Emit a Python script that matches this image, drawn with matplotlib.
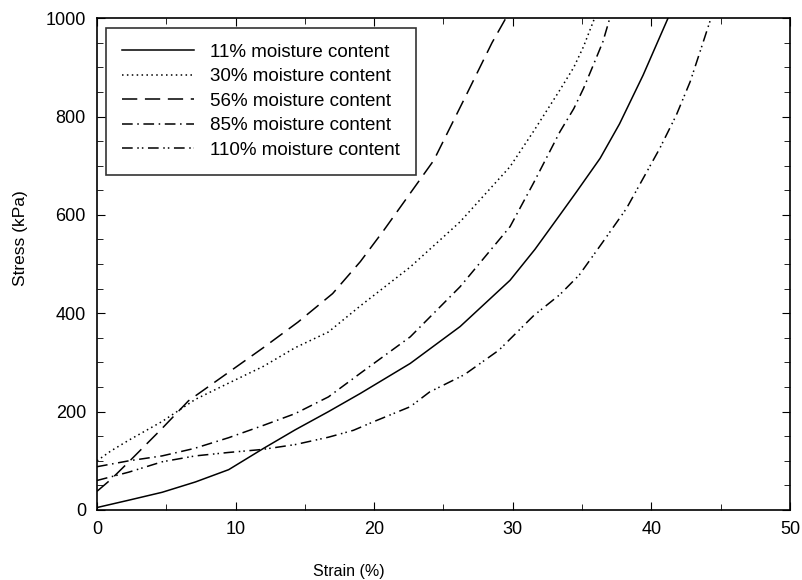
import matplotlib.pyplot as plt

plt.rcParams['font.family'] = ['Liberation Sans', 'DejaVu Sans']

# 11% moisture content
strain_11 = [0, 2.3, 4.7, 7.1, 9.5, 12, 14.3, 16.7, 19, 22.6, 26.2, 29.8, 31.6, 33.4, 34.6, 36.3, 37.7, 39.4, 41.2]
stress_11 = [5, 20, 36, 57, 82, 125, 163, 200, 237, 298, 373, 467, 530, 600, 647, 715, 785, 884, 1000]

# 30% moisture content
strain_30 = [0, 1, 2.3, 4.7, 7.1, 9.5, 12, 14.3, 16.7, 19, 22.6, 26.2, 29.8, 31.5, 33.4, 34.4, 35.1, 35.9]
stress_30 = [100, 120, 142, 180, 225, 258, 292, 330, 362, 415, 494, 586, 698, 770, 854, 900, 942, 1000]

# 56% moisture content
strain_56 = [0, 1, 2.3, 4.7, 6.6, 9.5, 12, 14.5, 17, 19, 20.7, 22.6, 24.3, 26.7, 28.5, 29.5]
stress_56 = [38, 62, 98, 166, 222, 280, 330, 382, 440, 505, 569, 644, 711, 847, 950, 1000]

# 85% moisture content
strain_85 = [0, 2.3, 4.7, 7, 9.5, 12, 14.3, 16.7, 19, 22.6, 26.2, 29.8, 31.5, 33.4, 34.4, 35.1, 35.8, 36.5, 37.0]
stress_85 = [88, 100, 110, 125, 147, 172, 196, 230, 278, 352, 454, 576, 665, 769, 816, 857, 904, 952, 1000]

# 110% moisture content
strain_110 = [0, 2.3, 4.7, 7.1, 9.5, 11.9, 14.3, 16.7, 18.5, 20, 22.6, 24, 26.5, 29, 31.5, 33.4, 34.8, 36.5,
              38.2, 39.4, 40.6, 41.8, 42.8, 43.5, 44.3]
stress_110 = [60, 77, 98, 110, 117, 123, 133, 148, 162, 180, 210, 240, 275, 325, 395, 438, 478, 545,
              613, 674, 735, 803, 871, 931, 1000]

fig = plt.figure(figsize=(8.03, 5.8), dpi=100)
ax = fig.add_axes([0.1208, 0.1207, 0.863, 0.848])

ax.plot(strain_11, stress_11, color='black', lw=1.1, ls='-', label='11% moisture content')
ax.plot(strain_30, stress_30, color='black', lw=1.1, ls=(0, (1, 2.2)), label='30% moisture content')
ax.plot(strain_56, stress_56, color='black', lw=1.1, ls=(0, (10, 5)), label='56% moisture content')
ax.plot(strain_85, stress_85, color='black', lw=1.1, ls=(0, (7, 3, 1, 3)), label='85% moisture content')
ax.plot(strain_110, stress_110, color='black', lw=1.1, ls=(0, (7, 3, 1, 2, 1, 3)), label='110% moisture content')

ax.set_xlim(0, 50)
ax.set_ylim(0, 1000)
ax.set_xticks([0, 10, 20, 30, 40, 50])
ax.set_xticks(range(5, 50, 10), minor=True)
ax.set_yticks([0, 200, 400, 600, 800, 1000])
ax.set_yticks(range(50, 1000, 50), minor=True)
ax.tick_params(which='both', direction='in', top=True, right=True, labelsize=13, pad=8)
ax.tick_params(which='major', length=6)
ax.tick_params(which='minor', length=4)
for s in ax.spines.values():
    s.set_linewidth(1.2)

ax.set_xlabel('Strain (%)', fontsize=11.5, va='center')
ax.set_ylabel('Stress (kPa)', fontsize=12.5, va='center')
ax.xaxis.set_label_coords(0.364, -0.126)
ax.yaxis.set_label_coords(-0.111, 0.553)

leg = ax.legend(loc='upper left', fontsize=13.5, handlelength=3.8, frameon=True,
                fancybox=False, edgecolor='black', borderpad=0.85, labelspacing=0.39,
                handletextpad=0.9, borderaxespad=0, bbox_to_anchor=(0.0135, 0.98))
leg.get_frame().set_linewidth(1.2)

fig.savefig('out.png', dpi=100)
